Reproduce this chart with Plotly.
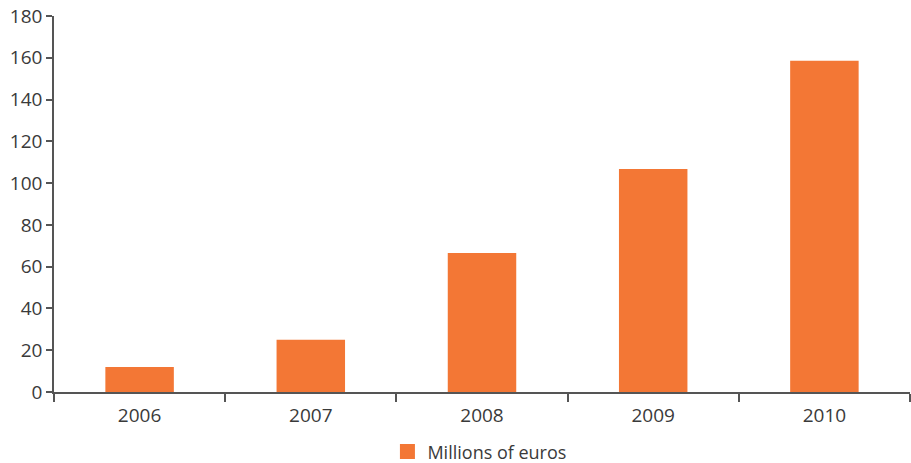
import plotly.graph_objects as go

years = ["2006", "2007", "2008", "2009", "2010"]
millions_eur = [12, 25, 66.6, 106.8, 158.6]
y_ticks = [0, 20, 40, 60, 80, 100, 120, 140, 160, 180]
series_name = "Millions of euros"

text_color = "#3a3a3a"
axis_color = "#555555"
bar_color = "#F37735"

fig = go.Figure()
fig.add_trace(
    go.Bar(
        x=years,
        y=millions_eur,
        name=series_name,
        marker=dict(color=bar_color, line=dict(width=0)),
        showlegend=False,
    )
)
# Legend key: a larger square swatch than the default bar key
fig.add_trace(
    go.Scatter(
        x=[None],
        y=[None],
        mode="markers",
        name=series_name,
        marker=dict(symbol="square", size=15, color=bar_color),
        showlegend=True,
    )
)

fig.update_layout(
    width=911,
    height=463,
    margin=dict(l=54, r=1, t=16, b=71, autoexpand=False),
    paper_bgcolor="white",
    plot_bgcolor="white",
    bargap=0.6,
    font=dict(family="Open Sans", size=19, color=text_color),
    legend=dict(
        orientation="h",
        x=0.497,
        xanchor="center",
        yref="container",
        y=0.024,
        yanchor="middle",
        font=dict(size=18, color=text_color),
        itemwidth=30,
    ),
)

fig.update_xaxes(
    type="category",
    showline=True,
    linecolor=axis_color,
    linewidth=1.5,
    ticks="outside",
    tickson="boundaries",
    ticklen=8,
    tickcolor=axis_color,
    tickwidth=1.5,
    ticklabelstandoff=5,
    showgrid=False,
    zeroline=False,
)

fig.update_yaxes(
    range=[0, 180],
    tickvals=y_ticks,
    showline=True,
    linecolor=axis_color,
    linewidth=1.5,
    ticks="outside",
    ticklen=6,
    tickcolor=axis_color,
    tickwidth=1.5,
    showgrid=False,
    zeroline=False,
)

fig.write_html("out.html")
